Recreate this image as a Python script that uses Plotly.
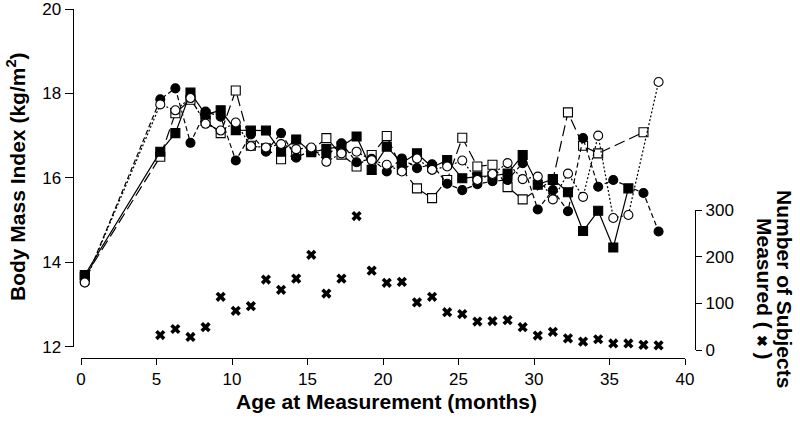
import plotly.graph_objects as go

# ---- data ----
ages = [0.25, 5.25, 6.25, 7.25, 8.25, 9.25, 10.25, 11.25, 12.25, 13.25, 14.25, 15.25,
        16.25, 17.25, 18.25, 19.25, 20.25, 21.25, 22.25, 23.25, 24.25, 25.25, 26.25,
        27.25, 28.25, 29.25, 30.25, 31.25, 32.25, 33.25, 34.25, 35.25, 36.25, 37.25, 38.25]

bmi_filled_sq = [13.7, 16.62, 17.06, 18.02, 17.5, 17.6, 17.13, 17.12, 17.12, 16.62, 16.91, 16.61,
                 16.68, 16.75, 16.98, 16.19, 16.74, 16.35, 16.58, 16.25, 16.42, 15.99, 16.03,
                 16.05, 16.1, 16.54, 15.84, 15.97, 15.66, 14.74, 15.22, 14.35, 15.75, None, None]

bmi_filled_circ = [13.52, 17.86, 18.12, 16.83, 17.57, 17.45, 16.41, 17.03, 16.62, 17.06, 16.48, 16.65,
                   16.52, 16.82, 16.37, 16.45, 16.15, 16.46, 16.23, 16.32, 15.86, 15.71, 15.85,
                   15.92, 15.95, 16.35, 15.25, 15.71, 15.21, 16.94, 15.79, 15.95, None, 15.64, 14.73]

bmi_open_circ = [13.52, 17.74, 17.6, 17.89, 17.28, 17.12, 17.31, 16.75, 16.72, 16.8, 16.68, 16.72,
                 16.38, 16.58, 16.62, 16.42, 16.31, 16.15, 16.46, 16.19, 16.27, 16.41, 15.95,
                 16.09, 16.35, 15.97, 16.03, 15.49, 16.1, 15.55, 17.0, 15.05, 15.12, None, 18.27]

bmi_open_sq = [13.65, 16.5, 17.53, 17.85, 17.35, 17.06, 18.07, 16.76, 16.7, 16.44, 16.55, 16.65,
               16.94, 16.55, 16.27, 16.54, 16.99, 16.2, 15.75, 15.52, 15.95, 16.95, 16.27,
               16.31, 15.78, 15.49, None, 15.95, 17.55, 16.76, 16.58, None, None, 17.08, None]

subjects = [None, 32, 45, 28, 49, 114, 84, 94, 151, 129, 153, 204, 121, 153, 287, 170, 144,
            146, 102, 114, 81, 77, 61, 62, 64, 49, 31, 39, 25, 18, 23, 14, 14, 11, 10]

x_ticks = [0, 5, 10, 15, 20, 25, 30, 35, 40]
bmi_ticks = [12, 14, 16, 18, 20]
count_ticks = [0, 100, 200, 300]

# ---- layout helpers (figure is 800 x 423, zero margins) ----
W, H = 800, 423
def fx(px):
    return px / W
def fy(py):
    return 1 - py / H

FONT = "Arial, Liberation Sans, Helvetica, sans-serif"
LW = 1.2

fig = go.Figure()

def add_series(y, symbol, fill, dash):
    fig.add_trace(go.Scatter(
        x=ages, y=y, mode="lines+markers", connectgaps=True, cliponaxis=False,
        line=dict(color="black", width=LW, dash=dash),
        marker=dict(symbol=symbol, size=9, color=fill, line=dict(color="black", width=1.1)),
        xaxis="x", yaxis="y", showlegend=False,
    ))

add_series(bmi_open_sq, "square", "white", "11px,5px")
add_series(bmi_filled_sq, "square", "black", "solid")
add_series(bmi_filled_circ, "circle", "black", "5px,3px")
add_series(bmi_open_circ, "circle", "white", "2px,2px")

fig.add_trace(go.Scatter(
    x=ages, y=subjects, mode="markers", cliponaxis=False,
    marker=dict(symbol="x", size=9, color="black", line=dict(width=0)),
    xaxis="x2", yaxis="y2", showlegend=False,
))

tickfont = dict(family=FONT, size=17, color="black")

fig.update_layout(
    width=W, height=H, autosize=False,
    margin=dict(l=0, r=0, t=0, b=0, pad=0),
    paper_bgcolor="white", plot_bgcolor="rgba(0,0,0,0)",
    xaxis=dict(domain=[fx(81), fx(685)], range=[0, 40], tickvals=x_ticks,
               anchor="free", position=fy(357.7), showline=True, linecolor="black",
               linewidth=LW, ticks="outside", ticklen=6, tickwidth=LW, tickcolor="black",
               showgrid=False, zeroline=False, tickfont=tickfont, automargin=False,
               ticklabeloverflow="allow"),
    yaxis=dict(domain=[fy(346.7), fy(9)], range=[12, 20], tickvals=bmi_ticks,
               anchor="free", position=fx(72.7), showline=True, linecolor="black",
               linewidth=LW, ticks="outside", ticklen=8, tickwidth=LW, tickcolor="black",
               showgrid=False, zeroline=False, tickfont=tickfont, automargin=False,
               ticklabeloverflow="allow"),
    xaxis2=dict(domain=[fx(81), fx(685)], range=[0, 40], visible=False,
                anchor="y2", matches="x"),
    yaxis2=dict(domain=[fy(350), fy(210)], range=[0, 300], tickvals=count_ticks,
                side="right", anchor="free", position=fx(695), showline=True,
                linecolor="black", linewidth=LW, ticks="outside", ticklen=6,
                tickwidth=LW, tickcolor="black", showgrid=False, zeroline=False,
                tickfont=tickfont, automargin=False, ticklabeloverflow="allow"),
)

titlefont = dict(family=FONT, size=21, color="black")
fig.add_annotation(text="<b>Age at Measurement (months)</b>", x=fx(386), y=fy(401),
                   xref="paper", yref="paper", showarrow=False, font=titlefont,
                   xanchor="center", yanchor="middle")
fig.add_annotation(text="<b>Body Mass Index (kg/m<sup>2</sup>)</b>", x=fx(16), y=fy(177),
                   xref="paper", yref="paper", showarrow=False, font=titlefont,
                   textangle=-90, xanchor="center", yanchor="middle")
fig.add_annotation(text="<b>Number of Subjects</b>", x=fx(785), y=fy(289),
                   xref="paper", yref="paper", showarrow=False, font=titlefont,
                   textangle=90, xanchor="center", yanchor="middle")
fig.add_annotation(text="<b>Measured ( <span style='font-size:14px'>✖</span> )</b>",
                   x=fx(765), y=fy(289),
                   xref="paper", yref="paper", showarrow=False, font=titlefont,
                   textangle=90, xanchor="center", yanchor="middle")

fig.write_html("out.html", config={"displayModeBar": False},
               post_script="document.body.style.margin='0';document.body.style.overflow='hidden';")
